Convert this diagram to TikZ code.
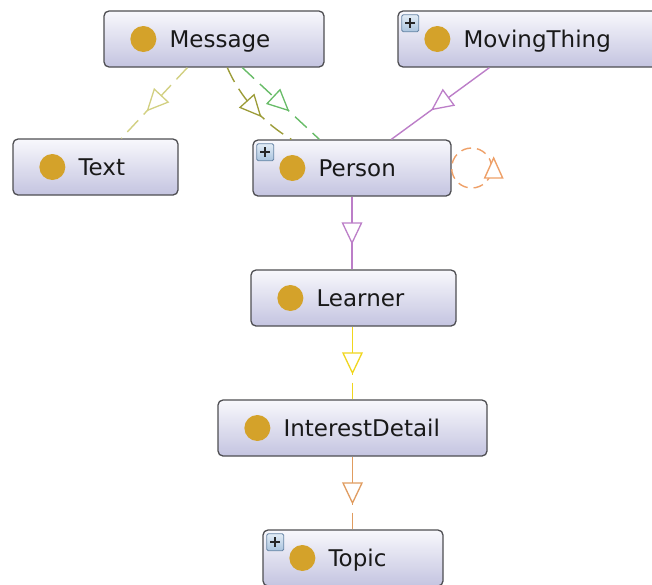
\documentclass[tikz,border=0pt]{standalone}
\usepackage{fontspec}
\setmainfont{DejaVu Sans}
\usetikzlibrary{calc,decorations.markings}

\definecolor{nodetop}{RGB}{248,248,252}
\definecolor{nodebot}{RGB}{196,196,224}
\definecolor{nodeedge}{RGB}{78,78,82}
\definecolor{dotgold}{RGB}{212,162,42}
\definecolor{plustop}{RGB}{226,236,246}
\definecolor{plusbot}{RGB}{170,196,222}
\definecolor{plusedge}{RGB}{104,134,166}
\definecolor{ekhaki}{RGB}{210,208,130}
\definecolor{eolive}{RGB}{156,156,56}
\definecolor{egreen}{RGB}{104,188,104}
\definecolor{epurple}{RGB}{188,126,200}
\definecolor{eloop}{RGB}{238,160,104}
\definecolor{eyellow}{RGB}{240,214,30}
\definecolor{etan}{RGB}{224,156,96}

\tikzset{
  cls/.style={draw=nodeedge, line width=1.3pt, rounded corners=5pt,
    top color=nodetop, bottom color=nodebot,
    minimum height=56pt, inner sep=0pt},
  dot/.style={circle, fill=dotgold, minimum size=26pt, inner sep=0pt},
  lbl/.style={anchor=base west, inner sep=0pt, text=black!90,
    font=\fontsize{23}{27}\selectfont},
  plusbox/.style={draw=plusedge, line width=0.8pt, rounded corners=1.5pt,
    top color=plustop, bottom color=plusbot,
    minimum size=17pt, inner sep=0pt, anchor=north west},
  plusbar/.style={line width=2pt, black!85},
  link/.style={line width=1.4pt},
  dsh/.style={dash pattern=on 16pt off 8pt},
  vdsh/.style={dash pattern=on 28pt off 8pt on 12pt off 8pt},
  inh/.style={postaction={decorate}, decoration={markings,
    mark=at position 0.5 with {\draw[solid, fill=white, line width=1.3pt,
      line join=miter] (10pt,0) -- (-10pt,9.5pt) -- (-10pt,-9.5pt) -- cycle;}}},
}

% one class box: name, centre, width, label
\newcommand{\owlclass}[5]{%
  \node[cls, minimum width=#4pt] (#1) at (#2,#3) {};
  \node[dot] (#1-dot) at ($(#1.west)+(40,0)$) {};
  \node[lbl] (#1-lbl) at ($(#1.west)+(66,8.5)$) {#5};
}
% expand marker in the top left corner of a class box
\newcommand{\owlplus}[1]{%
  \node[plusbox] (#1-plus) at ($(#1.north west)+(4,4)$) {};
  \draw[plusbar] ($(#1-plus.center)+(-5,0)$) -- ($(#1-plus.center)+(5,0)$);
  \draw[plusbar] ($(#1-plus.center)+(0,-5)$) -- ($(#1-plus.center)+(0,5)$);
}

\begin{document}
\begin{tikzpicture}[x=1pt, y=-1pt]
\useasboundingbox (0,0) rectangle (652,584);
\clip (0,0) rectangle (652,584);

% classes
\owlclass{msg}{214}{39}{220}{Message}
\owlclass{mov}{529}{39}{262}{MovingThing}
\owlplus{mov}
\owlclass{txt}{95.5}{167}{165}{Text}
\owlclass{per}{352}{168}{198}{Person}
\owlplus{per}
\owlclass{lrn}{353.5}{298}{205}{Learner}
\owlclass{int}{352.5}{428}{269}{InterestDetail}
\owlclass{top}{353}{558}{180}{Topic}
\owlplus{top}

% links out of Message
\draw[link, dsh, color=ekhaki, inh]
  ($(msg.south west)+(84,0)$) -- ($(txt.north west)+(109,0)$);
\draw[link, dsh, color=eolive, inh]
  ($(msg.south west)+(124,0)$)
  .. controls ($(msg.south west)+(136,28)$) and ($(per.north west)+(9,-18)$)
  .. ($(per.north west)+(39,0)$);
\draw[link, dsh, color=egreen, inh]
  ($(msg.south west)+(139,0)$) -- ($(per.north west)+(67,0)$);

% MovingThing to Person
\draw[link, color=epurple, inh]
  ($(mov.south west)+(92,0)$) -- ($(per.north west)+(139,0)$);

% self link on Person
\coordinate (perloop) at ($(per.east)+(20,0)$);
\draw[link, color=eloop, dash pattern=on 10pt off 6pt] (perloop) circle (20pt);
\draw[link, color=eloop, fill=white, line join=miter]
  ($(per.east)+(42,-10)$) -- ($(per.east)+(33,10)$) -- ($(per.east)+(51,10)$) -- cycle;

% vertical chain
\draw[link, color=epurple, inh] (per.south) -- (per.south |- lrn.north);
\draw[link, line width=1.9pt, vdsh, color=eyellow, inh]
  ($(lrn.south)+(-1,0)$) -- ($(lrn.south |- int.north)+(-1,0)$);
\draw[link, vdsh, color=etan, inh]
  (int.south) -- (int.south |- top.north);
\end{tikzpicture}
\end{document}
